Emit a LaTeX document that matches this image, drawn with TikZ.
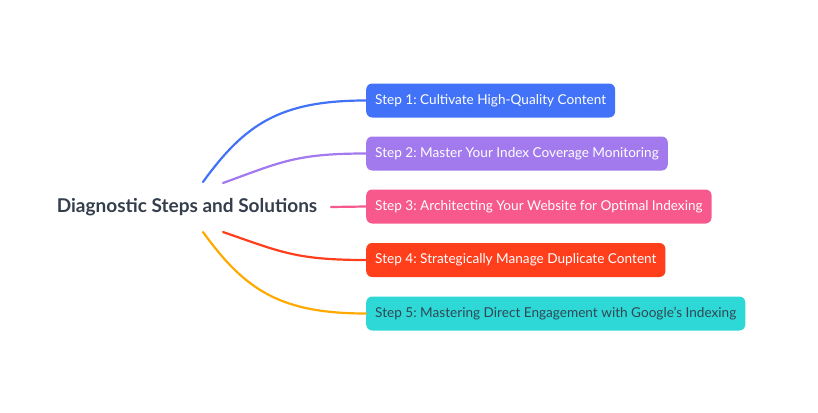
\documentclass[tikz,border=0pt]{standalone}
\usepackage{fontspec}
\setmainfont{Lato}
\frenchspacing
\definecolor{rootgray}{RGB}{52,62,76}
\definecolor{stepblue}{RGB}{66,114,247}
\definecolor{steppurple}{RGB}{162,122,238}
\definecolor{steppink}{RGB}{247,89,141}
\definecolor{stepred}{RGB}{255,62,28}
\definecolor{stepteal}{RGB}{46,216,214}
\definecolor{steporange}{RGB}{255,170,0}
\definecolor{tealtext}{RGB}{48,72,84}

\begin{document}
\begin{tikzpicture}[x=1pt,y=-1pt]
			\tikzset{stepbox/.style={rounded corners=6pt,anchor=west,minimum height=34pt,inner xsep=9pt,inner ysep=0pt,text=white,font=\fontsize{13.6}{16}\selectfont}}
			\tikzset{branch/.style={line width=2.2pt,line cap=round}}
			\useasboundingbox (0,0) rectangle (818,412);
			\node[text=rootgray,font=\fontsize{19}{21}\selectfont\bfseries] (root) at (187,207) {Diagnostic Steps and Solutions};
			\node[stepbox,fill=stepblue] (s1) at (366,100.5) {Step 1: Cultivate High-Quality Content};
			\node[stepbox,fill=steppurple] (s2) at (366,153.5) {Step 2: Master Your Index Coverage Monitoring};
			\node[stepbox,fill=steppink] (s3) at (366,206.5) {Step 3: Architecting Your Website for Optimal Indexing};
			\node[stepbox,fill=stepred] (s4) at (366,260) {Step 4: Strategically Manage Duplicate Content};
			\node[stepbox,fill=stepteal,text=tealtext] (s5) at (366,313.5) {Step 5: Mastering Direct Engagement with Google's Indexing};
			% branch ends round the root
			\coordinate (b1) at (203,182);
			\coordinate (b2) at (223,183);
			\coordinate (b3) at (331,207);
			\coordinate (b4) at (223,232);
			\coordinate (b5) at (203,232);
			\draw[branch,stepblue] (b1) .. controls (245,124) and (280,100.5) .. (s1.west);
			\draw[branch,steppurple] (b2) .. controls (281,162) and (296,153.5) .. (s2.west);
			\draw[branch,steppink] (b3) -- (s3.west);
			\draw[branch,stepred] (b4) .. controls (281,252) and (296,260) .. (s4.west);
			\draw[branch,steporange] (b5) .. controls (245,290) and (280,313.5) .. (s5.west);
		\end{tikzpicture}
\end{document}
